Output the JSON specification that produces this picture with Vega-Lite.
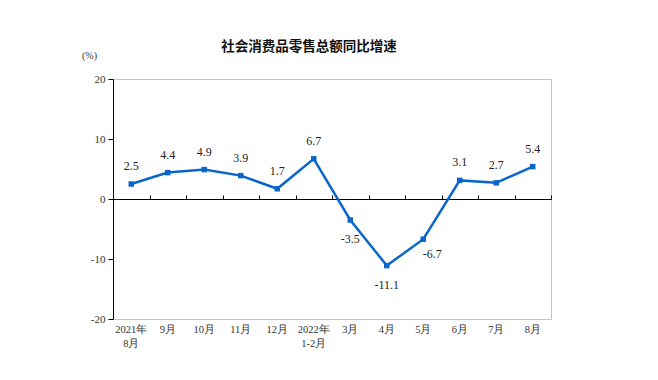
{
  "$schema": "https://vega.github.io/schema/vega-lite/v6.json",
  "autosize": {"type": "none"},
  "padding": {"left": 113, "top": 79, "right": 107, "bottom": 61},
  "width": 438,
  "height": 240,
  "title": {
    "text": "社会消费品零售总额同比增速",
    "font": "Noto Sans CJK SC",
    "fontSize": 13.5,
    "fontWeight": "bold",
    "color": "#111111",
    "anchor": "middle",
    "dx": -23,
    "dy": 25,
    "offset": 22
  },
  "data": {
    "values": [
      {"m": "2021年|8月", "v": 2.5},
      {"m": "9月", "v": 4.4},
      {"m": "10月", "v": 4.9},
      {"m": "11月", "v": 3.9},
      {"m": "12月", "v": 1.7},
      {"m": "2022年|1-2月", "v": 6.7},
      {"m": "3月", "v": -3.5},
      {"m": "4月", "v": -11.1},
      {"m": "5月", "v": -6.7},
      {"m": "6月", "v": 3.1},
      {"m": "7月", "v": 2.7},
      {"m": "8月", "v": 5.4}
    ]
  },
  "encoding": {
    "x": {
      "field": "m",
      "type": "ordinal",
      "sort": null,
      "scale": {"type": "band", "paddingInner": 0, "paddingOuter": 0}
    },
    "y": {
      "field": "v",
      "type": "quantitative",
      "scale": {"domain": [-20, 20], "nice": false},
      "axis": {
        "values": [-20, -10, 0, 10, 20],
        "labelExpr": "'' + datum.value",
        "grid": false,
        "domainColor": "#000000",
        "tickColor": "#000000",
        "tickSize": 5,
        "labelFont": "Liberation Serif",
        "labelFontSize": 11,
        "labelColor": "#333333",
        "labelPadding": 3,
        "title": "(%)",
        "titleAngle": 0,
        "titleX": -24,
        "titleY": -24,
        "titleAlign": "center",
        "titleBaseline": "middle",
        "titleFont": "Liberation Serif",
        "titleFontSize": 10,
        "titleFontWeight": "normal",
        "titleColor": "#333333"
      }
    }
  },
  "layer": [
    {
      "mark": {
        "type": "line",
        "color": "#0a66c8",
        "strokeWidth": 2.5,
        "point": {"shape": "square", "size": 30, "filled": true, "color": "#0a66c8", "opacity": 1}
      },
      "encoding": {
        "x": {
          "field": "m",
          "type": "ordinal",
          "sort": null,
          "axis": {
            "orient": "top",
            "offset": -120,
            "labels": false,
            "title": null,
            "domain": true,
            "domainColor": "#000000",
            "domainWidth": 1,
            "ticks": true,
            "tickBand": "extent",
            "tickSize": 4,
            "tickColor": "#000000"
          }
        }
      }
    },
    {
      "transform": [{"filter": "datum.v >= 0"}],
      "mark": {"type": "text", "dy": -18, "font": "Liberation Serif", "fontSize": 12, "color": "#222222"},
      "encoding": {
        "text": {"field": "v", "type": "nominal"},
        "x": {
          "field": "m",
          "type": "ordinal",
          "sort": null,
          "axis": {
            "orient": "bottom",
            "title": null,
            "domain": false,
            "ticks": false,
            "labelAngle": 0,
            "labelPadding": 5,
            "labelExpr": "split(datum.label, '|')",
            "labelFont": "Liberation Serif",
            "labelFontSize": 10.5,
            "labelLineHeight": 14,
            "labelColor": "#333333",
            "labelBaseline": "top"
          }
        }
      }
    },
    {
      "transform": [{"filter": "datum.v < 0 && datum.v != -6.7"}],
      "mark": {"type": "text", "dy": 19, "font": "Liberation Serif", "fontSize": 12, "color": "#222222"},
      "encoding": {
        "text": {"field": "v", "type": "nominal"},
        "x": {"field": "m", "type": "ordinal", "sort": null, "axis": null}
      }
    },
    {
      "transform": [{"filter": "datum.v == -6.7"}],
      "mark": {"type": "text", "dx": 9, "dy": 15, "font": "Liberation Serif", "fontSize": 12, "color": "#222222"},
      "encoding": {
        "text": {"field": "v", "type": "nominal"},
        "x": {"field": "m", "type": "ordinal", "sort": null, "axis": null}
      }
    }
  ],
  "resolve": {"axis": {"x": "independent"}},
  "config": {
    "view": {"stroke": "#c4c4c4"},
    "background": "#ffffff"
  }
}
